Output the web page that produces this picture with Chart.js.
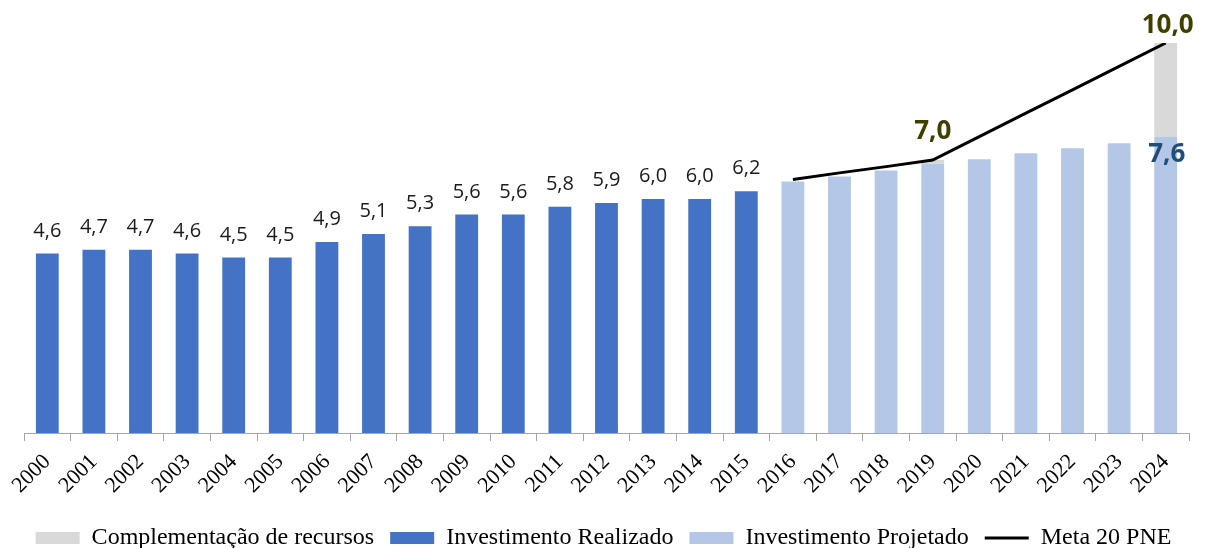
<!DOCTYPE html>
<html>
<head>
<meta charset="utf-8">
<script src="https://cdn.jsdelivr.net/npm/chart.js@4/dist/chart.umd.min.js"></script>
<style>
    body { margin: 0; background: #fff; }
    canvas { display: block; }
</style>
</head>
<body>
<canvas id="pneChart" width="1207" height="548"></canvas>
<script>
// Data
const years = ['2000', '2001', '2002', '2003', '2004', '2005', '2006', '2007', '2008', '2009', '2010', '2011',
    '2012', '2013', '2014', '2015', '2016', '2017', '2018', '2019', '2020', '2021', '2022', '2023', '2024'];

const realizado = [4.6, 4.7, 4.7, 4.6, 4.5, 4.5, 4.9, 5.1, 5.3, 5.6, 5.6, 5.8, 5.9, 6.0, 6.0, 6.2,
    null, null, null, null, null, null, null, null, null];

const projetado = [null, null, null, null, null, null, null, null, null, null, null, null, null, null, null, null,
    6.45, 6.58, 6.73, 6.9, 7.02, 7.17, 7.3, 7.43, 7.6];

const complementacao = [null, null, null, null, null, null, null, null, null, null, null, null, null, null, null, null,
    null, null, null, 0.1, null, null, null, null, 2.4];

const meta = [null, null, null, null, null, null, null, null, null, null, null, null, null, null, null, null,
    6.5, 6.67, 6.83, 7.0, 7.6, 8.2, 8.8, 9.4, 10.0];

// legend: complementação first, line last
const legendOrder = [2, 0, 1, 3];
const legendStyles = ['rect', 'rect', 'rect', 'line'];

function fmt(v) {
    return v.toFixed(1).replace('.', ',');
}

// draws the value labels over the bars and the line
const valueLabels = {
    id: 'valueLabels',
    afterDatasetsDraw(chart) {
        const ctx = chart.ctx;
        ctx.save();
        ctx.textAlign = 'center';
        ctx.textBaseline = 'alphabetic';

        // realized values, above each bar
        const realMeta = chart.getDatasetMeta(0);
        ctx.font = '20px "Open Sans"';
        ctx.fillStyle = '#1a1a1a';
        realMeta.data.forEach((bar, i) => {
            if (realizado[i] == null) return;
            ctx.fillText(fmt(realizado[i]), bar.x, bar.y - 17);
        });

        // last projected value, inside the bar top
        const projMeta = chart.getDatasetMeta(1);
        const last = projetado.length - 1;
        ctx.font = 'bold 26px "Open Sans"';
        ctx.fillStyle = '#1f4e79';
        ctx.fillText(fmt(projetado[last]), projMeta.data[last].x + 1, projMeta.data[last].y + 25);

        // goal values for 2019 and 2024
        const lineMeta = chart.getDatasetMeta(3);
        ctx.fillStyle = '#3f3f00';
        const i19 = years.indexOf('2019');
        ctx.fillText(fmt(meta[i19]), lineMeta.data[i19].x, lineMeta.data[i19].y - 21);
        ctx.fillText(fmt(meta[last]), lineMeta.data[last].x + 2, lineMeta.data[last].y - 10);

        ctx.restore();
    }
};

const ctx = document.getElementById('pneChart').getContext('2d');

new Chart(ctx, {
    type: 'bar',
    data: {
        labels: years,
        datasets: [
            {
                label: 'Investimento Realizado',
                data: realizado,
                backgroundColor: '#4472c4',
                stack: 'inv',
                order: 1
            },
            {
                label: 'Investimento Projetado',
                data: projetado,
                backgroundColor: '#b4c7e7',
                stack: 'inv',
                order: 1
            },
            {
                label: 'Complementação de recursos',
                data: complementacao,
                backgroundColor: '#d9d9d9',
                stack: 'inv',
                order: 1
            },
            {
                type: 'line',
                label: 'Meta 20 PNE',
                data: meta,
                borderColor: '#000',
                backgroundColor: '#000',
                borderWidth: 3,
                pointRadius: 0,
                tension: 0,
                stack: 'meta',
                order: 0
            }
        ]
    },
    options: {
        responsive: false,
        animation: false,
        layout: {
            padding: { top: 43, left: 0, right: 0, bottom: -12 }
        },
        datasets: {
            bar: {
                categoryPercentage: 1,
                barPercentage: 0.49,
                borderWidth: 0
            }
        },
        scales: {
            x: {
                stacked: true,
                offset: true,
                afterFit(scale) {
                    scale.height = 77;
                },
                grid: {
                    display: true,
                    offset: true,
                    drawOnChartArea: false,
                    drawTicks: true,
                    tickLength: 8,
                    color: '#a6a6a6'
                },
                border: { color: '#a6a6a6', width: 1 },
                ticks: {
                    color: '#000',
                    font: { family: '"Liberation Serif"', size: 22 },
                    minRotation: 45,
                    maxRotation: 45,
                    padding: 8,
                    autoSkip: false
                }
            },
            y: {
                stacked: true,
                min: 0,
                max: 10,
                afterFit(scale) {
                    scale.width = 24;
                },
                ticks: { display: false },
                grid: { display: false },
                border: { display: false }
            },
            // empty axis that only keeps a right margin
            yRight: {
                type: 'linear',
                position: 'right',
                afterFit(scale) {
                    scale.width = 18;
                },
                ticks: { display: false },
                grid: { display: false },
                border: { display: false }
            }
        },
        plugins: {
            legend: {
                position: 'bottom',
                labels: {
                    color: '#000',
                    font: { family: '"Liberation Serif"', size: 24 },
                    usePointStyle: true,
                    pointStyleWidth: 44,
                    boxHeight: 12,
                    padding: 16,
                    sort: (a, b) => legendOrder.indexOf(a.datasetIndex) - legendOrder.indexOf(b.datasetIndex),
                    generateLabels(chart) {
                        const items = Chart.defaults.plugins.legend.labels.generateLabels(chart);
                        items.forEach(item => {
                            item.pointStyle = legendStyles[item.datasetIndex];
                        });
                        return items;
                    }
                }
            },
            tooltip: { enabled: false }
        }
    },
    plugins: [valueLabels]
});
</script>
</body>
</html>
